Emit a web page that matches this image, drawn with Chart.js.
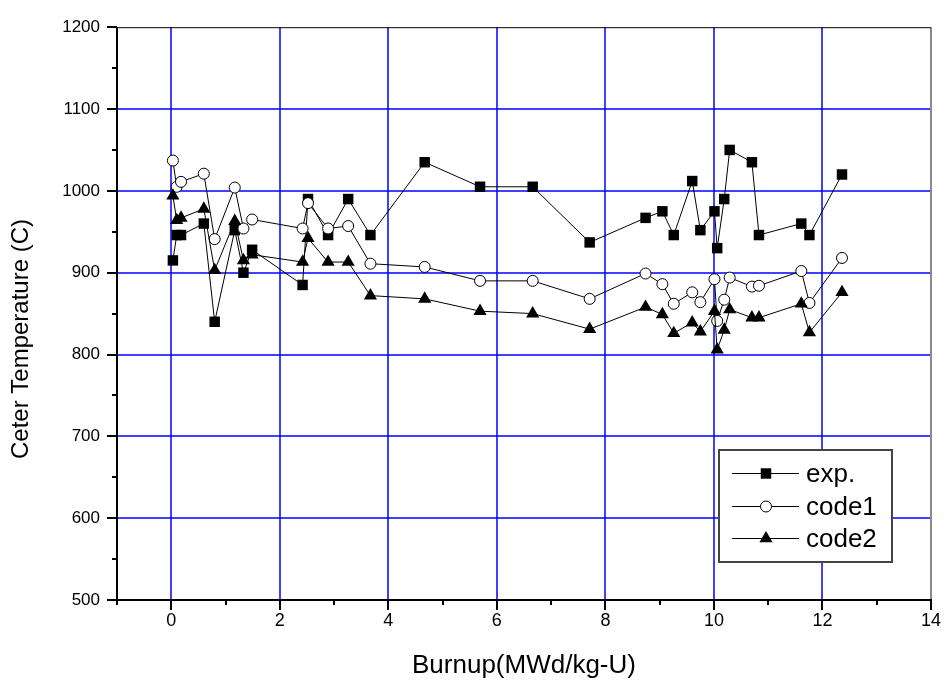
<!DOCTYPE html>
<html>
<head>
<meta charset="utf-8">
<title>Center temperature vs burnup</title>
<script src="https://cdn.jsdelivr.net/npm/chart.js@4.4.1/dist/chart.umd.min.js"></script>
<style>
  html, body { margin: 0; padding: 0; background: #fff; }
  #wrap { width: 951px; height: 688px; }
</style>
</head>
<body>
<div id="wrap"><canvas id="grafico" width="951" height="688"></canvas></div>
<script>
// burnup points (MWd/kg-U), shared by the three series
const burnup = [0.03, 0.1, 0.18, 0.6, 0.8, 1.17, 1.33, 1.49, 2.42, 2.52, 2.89, 3.26, 3.67,
  4.67, 5.69, 6.66, 7.71, 8.74, 9.05, 9.26, 9.6, 9.75, 10.01, 10.06, 10.19, 10.29,
  10.7, 10.83, 11.61, 11.76, 12.36];

// center temperature (C)
const tempExp = [915, 946, 946, 960, 840, 952, 900, 928, 885, 990, 946, 990, 946,
  1035, 1005, 1005, 937, 967, 975, 946, 1012, 952, 975, 930, 990, 1050,
  1035, 946, 960, 946, 1020];
const tempCode1 = [1037, 1005, 1011, 1021, 941, 1004, 954, 965, 954, 985, 954, 957, 911,
  907, 890, 890, 868, 899, 886, 862, 876, 864, 892, 841, 867, 894,
  883, 884, 902, 863, 918];
const tempCode2 = [994, 964, 967, 978, 903, 963, 915, 922, 913, 942, 913, 913, 872,
  868, 853, 850, 831, 858, 849, 826, 839, 828, 853, 806, 830, 855,
  845, 845, 862, 827, 876];

const seriesNames = ['exp.', 'code1', 'code2'];

// axis ticks
const xTicks = [0, 2, 4, 6, 8, 10, 12, 14];
const xMinor = [-1, 1, 3, 5, 7, 9, 11, 13];
const yTicks = [500, 600, 700, 800, 900, 1000, 1100, 1200];
const yMinor = [550, 650, 750, 850, 950, 1050, 1150];

const yTitle = 'Ceter Temperature (C)';

const FONT = 'Liberation Sans, Arial, Helvetica, sans-serif';
const BLUE = '#0000ff';

const pontos = (ys) => burnup.map((x, i) => ({ x: x, y: ys[i] }));

const estilos = [
  { pointStyle: 'rect', radius: 7.4, backgroundColor: '#000', borderColor: '#000', borderWidth: 0 },
  { pointStyle: 'circle', radius: 5.5, backgroundColor: '#fff', borderColor: '#000', borderWidth: 1 },
  { pointStyle: 'triangle', radius: 7.6, backgroundColor: '#000', borderColor: '#000', borderWidth: 0 }
];

const datasets = [tempExp, tempCode1, tempCode2].map((ys, i) => ({
  label: seriesNames[i],
  data: pontos(ys),
  showLine: true,
  borderColor: '#000',
  borderWidth: 1,
  pointStyle: estilos[i].pointStyle,
  pointRadius: estilos[i].radius,
  pointHoverRadius: estilos[i].radius,
  pointBackgroundColor: estilos[i].backgroundColor,
  pointBorderColor: estilos[i].borderColor,
  pointBorderWidth: estilos[i].borderWidth,
  order: 3 - i,
  clip: false
}));

const linha = (ctx, x1, y1, x2, y2) => { ctx.beginPath(); ctx.moveTo(x1, y1); ctx.lineTo(x2, y2); ctx.stroke(); };

// blue grid, frame, outward tick marks, y title and the boxed legend
const moldura = {
  id: 'moldura',
  beforeDatasetsDraw(chart) {
    const { ctx, chartArea: a, scales: { x, y } } = chart;
    ctx.save();
    ctx.strokeStyle = BLUE;
    ctx.lineWidth = 1.5;
    xTicks.slice(0, -1).forEach(v => {
      const p = Math.round(x.getPixelForValue(v));
      linha(ctx, p, a.top, p, a.bottom);
    });
    yTicks.slice(1, -1).forEach(v => {
      const p = Math.round(y.getPixelForValue(v));
      linha(ctx, a.left, p, a.right, p);
    });
    ctx.restore();
  },
  afterDatasetsDraw(chart) {
    const { ctx, chartArea: a, scales: { x, y } } = chart;
    ctx.save();
    ctx.lineCap = 'butt';
    ctx.strokeStyle = '#888';
    ctx.lineWidth = 2;
    linha(ctx, a.right, a.top, a.right, a.bottom);
    ctx.strokeStyle = '#000';
    ctx.lineWidth = 1;
    linha(ctx, a.left, a.top + 0.5, a.right, a.top + 0.5);
    ctx.lineWidth = 2;
    linha(ctx, a.left, a.top, a.left, a.bottom + 1);
    linha(ctx, a.left - 1, a.bottom, a.right + 1, a.bottom);
    xTicks.forEach(v => { const p = Math.round(x.getPixelForValue(v)); linha(ctx, p, a.bottom, p, a.bottom + 10); });
    xMinor.forEach(v => { const p = Math.round(x.getPixelForValue(v)); linha(ctx, p, a.bottom, p, a.bottom + 5); });
    yTicks.forEach(v => { const p = Math.round(y.getPixelForValue(v)); linha(ctx, a.left - 10, p, a.left, p); });
    yMinor.forEach(v => { const p = Math.round(y.getPixelForValue(v)); linha(ctx, a.left - 5, p, a.left, p); });
    ctx.restore();
  },
  afterDraw(chart) {
    const { ctx, chartArea: a } = chart;

    // y axis title, set a little below the middle of the plot
    ctx.save();
    ctx.translate(21, 339);
    ctx.rotate(-Math.PI / 2);
    ctx.font = '24px ' + FONT;
    ctx.fillStyle = '#000';
    ctx.textAlign = 'center';
    ctx.textBaseline = 'middle';
    ctx.fillText(yTitle, 0, 0);
    ctx.restore();

    const w = 173, h = 112;
    const bx = a.right - 39 - w, by = a.bottom - 38 - h;
    ctx.save();
    ctx.fillStyle = '#fff';
    ctx.fillRect(bx, by, w, h);
    ctx.strokeStyle = '#444';
    ctx.lineWidth = 2;
    ctx.strokeRect(bx, by, w, h);
    ctx.font = '26px ' + FONT;
    ctx.textBaseline = 'middle';
    seriesNames.forEach((nome, i) => {
      const ly = Math.round(by + 23 + i * 32.5) + 0.5;
      ctx.strokeStyle = '#000';
      ctx.lineWidth = 1;
      linha(ctx, bx + 13, ly, bx + 80, ly);
      const e = estilos[i];
      ctx.fillStyle = e.backgroundColor;
      ctx.strokeStyle = e.borderColor;
      ctx.lineWidth = e.borderWidth;
      Chart.helpers.drawPoint(ctx, { pointStyle: e.pointStyle, radius: e.radius, rotation: 0, borderWidth: e.borderWidth }, bx + 47, ly);
      ctx.fillStyle = '#000';
      ctx.fillText(nome, bx + 87, ly + 1);
    });
    ctx.restore();
  }
};

const config = {
  type: 'scatter',
  data: { datasets: datasets },
  options: {
    responsive: false,
    animation: false,
    layout: { padding: { top: 19, right: 19, left: 0, bottom: 0 } },
    plugins: { legend: { display: false }, tooltip: { enabled: false } },
    scales: {
      x: {
        type: 'linear',
        min: -1,
        max: 14,
        afterBuildTicks: s => { s.ticks = xTicks.map(v => ({ value: v })); },
        afterFit: s => { s.height = 88; },
        border: { display: false },
        grid: { display: false, drawTicks: false },
        ticks: { color: '#000', padding: 10, maxRotation: 0, font: { family: FONT, size: 18 }, callback: v => String(v) },
        title: {
          display: true,
          text: 'Burnup(MWd/kg-U)',
          color: '#000',
          padding: { top: 6, bottom: 7 },
          font: { family: FONT, size: 26 }
        }
      },
      y: {
        type: 'linear',
        min: 500,
        max: 1200,
        afterBuildTicks: s => { s.ticks = yTicks.map(v => ({ value: v })); },
        afterFit: s => { s.width = 117; },
        border: { display: false },
        grid: { display: false, drawTicks: false },
        ticks: { color: '#000', padding: 17, font: { family: FONT, size: 17 }, callback: v => String(v) },
        title: { display: false }
      }
    }
  },
  plugins: [moldura]
};

const grafico = new Chart(document.getElementById('grafico').getContext('2d'), config);
</script>
</body>
</html>
